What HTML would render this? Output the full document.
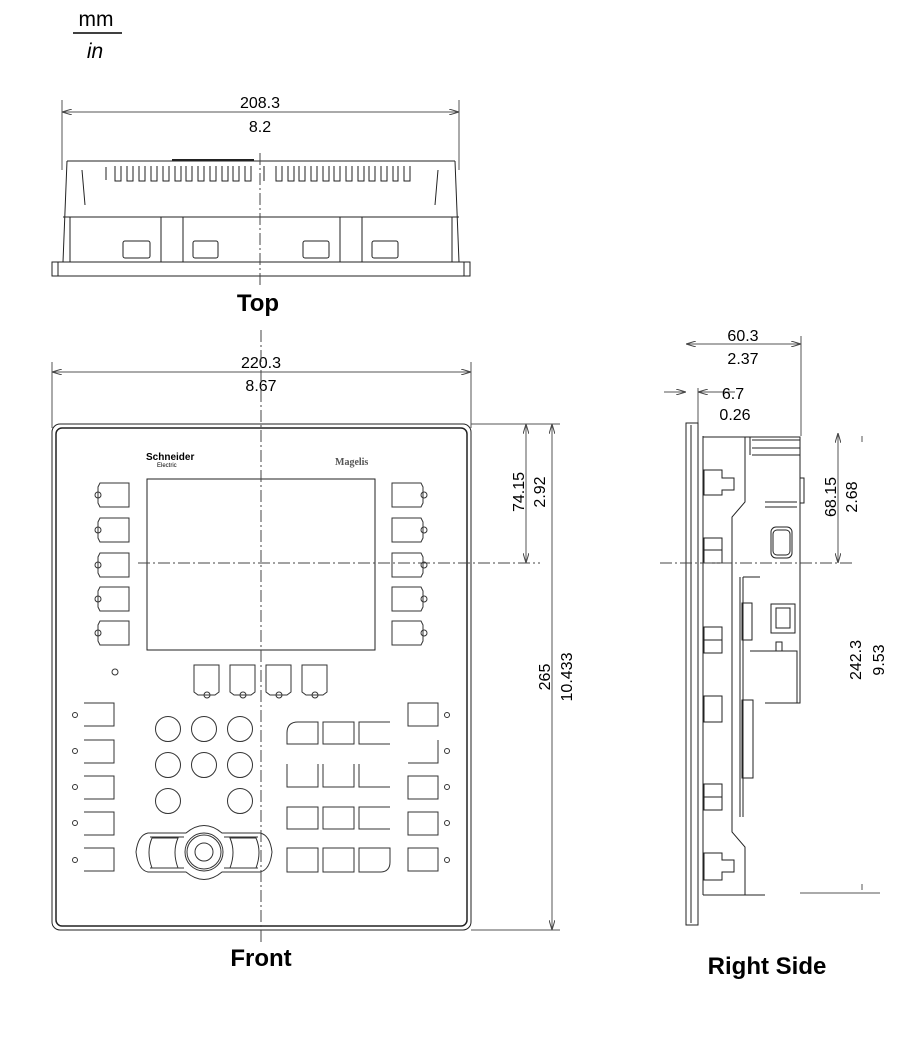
<!DOCTYPE html>
<html><head><meta charset="utf-8"><style>
html,body{margin:0;padding:0;background:#fff;}
svg{display:block;font-family:"Liberation Sans",sans-serif;}
</style></head><body>
<svg width="922" height="1041" viewBox="0 0 922 1041" xmlns="http://www.w3.org/2000/svg">
<defs>
<marker id="ar" viewBox="0 0 10 6" refX="10" refY="3" markerWidth="10" markerHeight="6" orient="auto-start-reverse" markerUnits="userSpaceOnUse"><path d="M0,0 L10,3 L0,6" fill="none" stroke="#444" stroke-width="1"/></marker>
</defs>
<g fill="#000">
<text x="96" y="26" font-size="21" text-anchor="middle">mm</text>
<text x="95" y="58" font-size="21" text-anchor="middle" font-style="italic">in</text>
</g>
<line x1="73" y1="33" x2="122" y2="33" stroke="#000" stroke-width="1.5"/>

<!-- TOP VIEW -->
<g stroke="#555" stroke-width="1" fill="none">
<line x1="62" y1="100" x2="62" y2="170"/><line x1="459" y1="100" x2="459" y2="170"/>
<line x1="62" y1="112" x2="459" y2="112" marker-start="url(#ar)" marker-end="url(#ar)"/>
</g>
<text x="260" y="108" font-size="16" text-anchor="middle">208.3</text>
<text x="260" y="132" font-size="16" text-anchor="middle">8.2</text>
<g stroke="#222" stroke-width="1" fill="none">
<path d="M67,161 H455 M63,217 H459 M52,262 H470 V276 H52 Z M58,262 V276 M464,262 V276"/>
<path d="M67,161 L63,262 M455,161 L459,262 M70,217 V262 M452,217 V262"/>
<path d="M82,170 L85,205 M438,170 L435,205 M161,217 V262 M183,217 V262 M340,217 V262 M362,217 V262"/>
<line x1="172" y1="160" x2="254" y2="160" stroke-width="2"/>
<rect x="123" y="241" width="27" height="17" rx="2"/>
<rect x="193" y="241" width="25" height="17" rx="2"/>
<rect x="303" y="241" width="26" height="17" rx="2"/>
<rect x="372" y="241" width="26" height="17" rx="2"/>
</g>
<g stroke="#222" stroke-width="1" fill="none">
<path d="M106,167 V180 M115,166 V181 H121 V166 M127,166 V181 H133 V166 M139,166 V181 H145 V166 M151,166 V181 H157 V166 M163,166 V181 H169 V166 M175,166 V181 H181 V166 M186,166 V181 H192 V166 M198,166 V181 H204 V166 M210,166 V181 H216 V166 M222,166 V181 H228 V166 M233,166 V181 H239 V166 M245,166 V181 H251 V166 M264,166 V181 M276,166 V181 H282 V166 M288,166 V181 H294 V166 M299,166 V181 H305 V166 M311,166 V181 H317 V166 M323,166 V181 H329 V166 M334,166 V181 H340 V166 M346,166 V181 H352 V166 M358,166 V181 H364 V166 M369,166 V181 H375 V166 M381,166 V181 H387 V166 M393,166 V181 H398 V166 M404,166 V181 H410 V166"/>
</g>
<line x1="260" y1="153" x2="260" y2="287" stroke="#444" stroke-width="1" stroke-dasharray="12 3 2 3"/>
<text x="258" y="311" font-size="24" font-weight="bold" text-anchor="middle">Top</text>

<!-- FRONT VIEW -->
<g stroke="#555" stroke-width="1" fill="none">
<line x1="52" y1="362" x2="52" y2="428"/><line x1="471" y1="362" x2="471" y2="428"/>
<line x1="52" y1="372" x2="471" y2="372" marker-start="url(#ar)" marker-end="url(#ar)"/>
<line x1="471" y1="424" x2="560" y2="424"/><line x1="471" y1="930" x2="560" y2="930"/>
<line x1="526" y1="424" x2="526" y2="563" marker-start="url(#ar)" marker-end="url(#ar)"/>
<line x1="552" y1="424" x2="552" y2="930" marker-start="url(#ar)" marker-end="url(#ar)"/>
</g>
<text x="261" y="368" font-size="16" text-anchor="middle">220.3</text>
<text x="261" y="391" font-size="16" text-anchor="middle">8.67</text>
<text transform="translate(524,492) rotate(-90)" font-size="16" text-anchor="middle">74.15</text>
<text transform="translate(545,492) rotate(-90)" font-size="16" text-anchor="middle">2.92</text>
<text transform="translate(550,677) rotate(-90)" font-size="16" text-anchor="middle">265</text>
<text transform="translate(572,677) rotate(-90)" font-size="16" text-anchor="middle">10.433</text>

<g stroke="#222" stroke-width="1" fill="none">
<rect x="52" y="424" width="419" height="506" rx="8"/>
<rect x="56" y="428" width="411" height="498" rx="6" stroke-width="1.5"/>
<rect x="147" y="479" width="228" height="171"/>
</g>
<text x="146" y="460" font-size="10" font-weight="bold">Schneider</text>
<text x="157" y="467" font-size="6">Electric</text>
<text x="335" y="465" font-size="10" font-weight="bold" fill="#555" font-family="Liberation Serif,serif">Magelis</text>

<g stroke="#333" stroke-width="1" fill="none">
<!-- left soft keys -->
<path d="M129,483 H100 L98,487 V503 L100,507 H129 Z"/>
<path d="M129,518 H100 L98,522 V538 L100,542 H129 Z"/>
<path d="M129,553 H100 L98,557 V573 L100,577 H129 Z"/>
<path d="M129,587 H100 L98,591 V607 L100,611 H129 Z"/>
<path d="M129,621 H100 L98,625 V641 L100,645 H129 Z"/>
<circle cx="98" cy="495" r="3"/><circle cx="98" cy="530" r="3"/><circle cx="98" cy="565" r="3"/><circle cx="98" cy="599" r="3"/><circle cx="98" cy="633" r="3"/>
<!-- right soft keys -->
<path d="M392,483 H421 L423,487 V503 L421,507 H392 Z"/>
<path d="M392,518 H421 L423,522 V538 L421,542 H392 Z"/>
<path d="M392,553 H421 L423,557 V573 L421,577 H392 Z"/>
<path d="M392,587 H421 L423,591 V607 L421,611 H392 Z"/>
<path d="M392,621 H421 L423,625 V641 L421,645 H392 Z"/>
<circle cx="424" cy="495" r="3"/><circle cx="424" cy="530" r="3"/><circle cx="424" cy="565" r="3"/><circle cx="424" cy="599" r="3"/><circle cx="424" cy="633" r="3"/>
<circle cx="115" cy="672" r="3"/>
<!-- F keys -->
<path d="M194,665 H219 V692 L215,695 H198 L194,692 Z"/>
<path d="M230,665 H255 V692 L251,695 H234 L230,692 Z"/>
<path d="M266,665 H291 V692 L287,695 H270 L266,692 Z"/>
<path d="M302,665 H327 V692 L323,695 H306 L302,692 Z"/>
<circle cx="207" cy="695" r="3"/><circle cx="243" cy="695" r="3"/><circle cx="279" cy="695" r="3"/><circle cx="315" cy="695" r="3"/>
<!-- bottom left keys -->
<path d="M84,703 H114 V726 H84"/><path d="M84,740 H114 V763 H84"/><path d="M84,776 H114 V799 H84"/><path d="M84,812 H114 V835 H84"/><path d="M84,848 H114 V871 H84"/>
<circle cx="75" cy="715" r="2.5"/><circle cx="75" cy="751" r="2.5"/><circle cx="75" cy="787" r="2.5"/><circle cx="75" cy="823" r="2.5"/><circle cx="75" cy="860" r="2.5"/>
<!-- bottom right keys -->
<rect x="408" y="703" width="30" height="23"/><path d="M438,740 V763 H408"/><rect x="408" y="776" width="30" height="23"/><rect x="408" y="812" width="30" height="23"/><rect x="408" y="848" width="30" height="23"/>
<circle cx="447" cy="715" r="2.5"/><circle cx="447" cy="751" r="2.5"/><circle cx="447" cy="787" r="2.5"/><circle cx="447" cy="823" r="2.5"/><circle cx="447" cy="860" r="2.5"/>
<!-- numeric round keys -->
<circle cx="168" cy="729" r="12.5"/><circle cx="204" cy="729" r="12.5"/><circle cx="240" cy="729" r="12.5"/>
<circle cx="168" cy="765" r="12.5"/><circle cx="204" cy="765" r="12.5"/><circle cx="240" cy="765" r="12.5"/>
<circle cx="168" cy="801" r="12.5"/><circle cx="240" cy="801" r="12.5"/>
<!-- square keys -->
<path d="M287,744 V733 Q287,722 298,722 H318 V744 Z"/><rect x="323" y="722" width="31" height="22"/><path d="M390,722 H359 V744 H390"/>
<path d="M318,764 V787 H287 V764"/><path d="M354,764 V787 H323 V764"/><path d="M359,764 V787 H390"/>
<rect x="287" y="807" width="31" height="22"/><rect x="323" y="807" width="31" height="22"/><path d="M390,807 H359 V829 H390"/>
<rect x="287" y="848" width="31" height="24"/><rect x="323" y="848" width="31" height="24"/><path d="M359,848 H390 V862 Q390,872 380,872 H359 Z"/>
<!-- joystick -->
<path d="M148,833 H186 Q204,818 222,833 H260 Q270,835 272,852 Q270,870 260,872 H222 Q204,887 186,872 H148 Q138,870 136,852 Q138,835 148,833 Z"/>
<path d="M150,837 H184 M224,837 H258 M150,868 H184 M224,868 H258"/>
<path d="M152,838 H178 Q172,852 178,868 H152 Q146,852 152,838 Z"/>
<path d="M256,838 H230 Q236,852 230,868 H256 Q262,852 256,838 Z"/>
<circle cx="204" cy="852" r="19"/><circle cx="204" cy="852" r="17"/><circle cx="204" cy="852" r="9"/>
</g>
<g stroke="#444" stroke-width="1" stroke-dasharray="12 3 2 3">
<line x1="261" y1="330" x2="261" y2="945"/>
<line x1="138" y1="563" x2="540" y2="563"/>
</g>
<text x="261" y="966" font-size="24" font-weight="bold" text-anchor="middle">Front</text>

<!-- RIGHT SIDE -->
<g stroke="#555" stroke-width="1" fill="none">
<line x1="801" y1="336" x2="801" y2="436"/>
<line x1="686" y1="344" x2="801" y2="344" marker-start="url(#ar)" marker-end="url(#ar)"/>
<line x1="698" y1="388" x2="698" y2="424"/>
<line x1="664" y1="392" x2="686" y2="392" marker-end="url(#ar)"/>
<line x1="698" y1="392" x2="735" y2="392" marker-start="url(#ar)"/>
<line x1="838" y1="433" x2="838" y2="563" marker-start="url(#ar)" marker-end="url(#ar)"/>
<line x1="862" y1="436" x2="862" y2="442"/>
<line x1="862" y1="884" x2="862" y2="890"/>
<line x1="800" y1="893" x2="880" y2="893"/>
</g>
<text x="743" y="341" font-size="16" text-anchor="middle">60.3</text>
<text x="743" y="364" font-size="16" text-anchor="middle">2.37</text>
<text x="733" y="399" font-size="16" text-anchor="middle">6.7</text>
<text x="735" y="420" font-size="16" text-anchor="middle">0.26</text>
<text transform="translate(836,497) rotate(-90)" font-size="16" text-anchor="middle">68.15</text>
<text transform="translate(857,497) rotate(-90)" font-size="16" text-anchor="middle">2.68</text>
<text transform="translate(861,660) rotate(-90)" font-size="16" text-anchor="middle">242.3</text>
<text transform="translate(884,660) rotate(-90)" font-size="16" text-anchor="middle">9.53</text>

<g stroke="#222" stroke-width="1" fill="none">
<rect x="686" y="423" width="12" height="502"/>
<line x1="691" y1="425" x2="691" y2="923"/>
<line x1="703" y1="436" x2="703" y2="895"/>
<path d="M703,437 H800 V703 H765"/>
<path d="M703,895 H765"/>
<path d="M745,437 V502 L732,517 V832 L745,847 V895"/>
<path d="M750,437 V455 M752,440 H800 M752,455 H800 M752,448 H800"/>
<rect x="800" y="478" width="4" height="25"/>
<path d="M740,577 V817 M743,577 V817 M743,577 H760"/>
<rect x="742" y="700" width="11" height="78"/>
<rect x="742" y="603" width="10" height="37"/>
<rect x="771" y="527" width="21" height="31" rx="5"/>
<rect x="773" y="530" width="17" height="25" rx="4"/>
<rect x="771" y="604" width="24" height="29"/>
<rect x="776" y="608" width="14" height="20"/>
<rect x="776" y="642" width="6" height="9"/>
<path d="M765,502 H797 M765,507 H797 M750,651 H797 V703"/>
<path d="M704,470 H722 V478 H734 V490 H722 V495 H704 Z"/>
<path d="M704,538 H722 V563 H704 Z M704,550 H722"/>
<path d="M704,627 H722 V653 H704 Z M704,640 H722"/>
<rect x="704" y="696" width="18" height="26"/>
<path d="M704,784 H722 V810 H704 Z M704,797 H722"/>
<path d="M704,853 H722 V860 H734 V872 H722 V880 H704 Z"/>
</g>
<line x1="660" y1="563" x2="855" y2="563" stroke="#444" stroke-width="1" stroke-dasharray="12 3 2 3"/>
<text x="767" y="974" font-size="24" font-weight="bold" text-anchor="middle">Right Side</text>
</svg>
</body></html>
